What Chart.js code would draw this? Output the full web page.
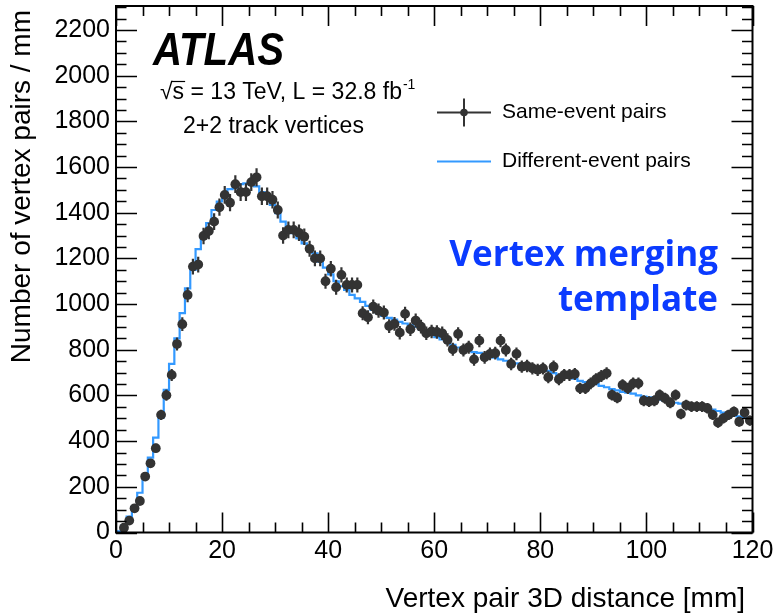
<!DOCTYPE html>
<html><head><meta charset="utf-8">
<script src="https://cdn.jsdelivr.net/npm/chart.js@4.4.1/dist/chart.umd.min.js"></script>
<style>html,body{margin:0;padding:0;background:#fff;}#wrap{width:776px;height:616px;}</style>
</head><body><div id="wrap"><canvas id="c" width="776" height="616"></canvas></div>
<script>
// ---- data ----
const binCenters = [0.5,1.5,2.5,3.5,4.5,5.5,6.5,7.5,8.5,9.5,10.5,11.5,12.5,13.5,14.5,15.5,16.5,17.5,18.5,19.5,
20.5,21.5,22.5,23.5,24.5,25.5,26.5,27.5,28.5,29.5,30.5,31.5,32.5,33.5,34.5,35.5,36.5,37.5,38.5,39.5,
40.5,41.5,42.5,43.5,44.5,45.5,46.5,47.5,48.5,49.5,50.5,51.5,52.5,53.5,54.5,55.5,56.5,57.5,58.5,59.5,
60.5,61.5,62.5,63.5,64.5,65.5,66.5,67.5,68.5,69.5,70.5,71.5,72.5,73.5,74.5,75.5,76.5,77.5,78.5,79.5,
80.5,81.5,82.5,83.5,84.5,85.5,86.5,87.5,88.5,89.5,90.5,91.5,92.5,93.5,94.5,95.5,96.5,97.5,98.5,99.5,
100.5,101.5,102.5,103.5,104.5,105.5,106.5,107.5,108.5,109.5,110.5,111.5,112.5,113.5,114.5,115.5,116.5,117.5,118.5,119.5];
const binHalfWidth = 0.5;

const sameEventPairs = [null,21,52,106,138,245,303,369,515,601,
690,825,912,1040,1164,1173,1298,1320,1361,1424,
1478,1444,1525,1490,1490,1534,1555,1472,1472,1457,
1412,1300,1325,1325,1312,1295,1242,1200,1200,1100,
1155,1074,1128,1084,1084,1084,960,942,989,971,
963,904,913,875,957,890,928,901,872,880,
878,872,843,802,869,799,811,758,840,767,
782,785,840,799,738,782,726,729,719,712,
718,680,726,671,690,690,694,631,631,653,
671,685,697,602,590,646,631,653,653,577,
573,577,602,588,568,602,519,558,551,551,
551,544,515,481,500,515,529,485,525,490];

const differentEventPairs = [5,30,70,113,174,240,328,415,504,624,
738,850,960,1069,1150,1241,1303,1355,1412,1449,
1485,1503,1510,1525,1529,1525,1515,1490,1465,1434,
1398,1361,1332,1310,1288,1266,1246,1222,1186,1160,
1130,1100,1078,1062,1040,1025,1010,992,975,960,
948,940,932,922,915,908,900,890,878,865,
855,845,836,822,810,805,795,790,786,782,
775,765,758,752,745,740,730,725,720,716,
712,708,698,690,684,680,674,664,658,653,
650,642,636,628,622,616,612,608,600,595,
592,588,582,577,572,568,564,558,555,552,
550,545,538,532,525,516,512,508,503,498];

const xTickValues = [0,20,40,60,80,100,120];
const yTickValues = [0,200,400,600,800,1000,1200,1400,1600,1800,2000,2200];
const seriesLabels = ['Same-event pairs','Different-event pairs'];
const xTitle = 'Vertex pair 3D distance [mm]';
const yTitle = 'Number of vertex pairs / mm';

// ---- styling ----
const SANS = '"Liberation Sans", Arial, Helvetica, sans-serif';
const MARK = '#333333';
const BLUE = '#3399ff';
const X_MAX = 120, Y_MAX = 2305;

const pointData = binCenters.map((x,i)=>({x, y: sameEventPairs[i]})).filter(p=>p.y!=null);
const histData = binCenters.map((x,i)=>({x: x-binHalfWidth, y: differentEventPairs[i]}));
histData.push({x: binCenters[binCenters.length-1]+binHalfWidth, y: differentEventPairs[differentEventPairs.length-1]});

const errorBars = {
  id:'errorBars',
  beforeDatasetDraw(chart, args){
    if(args.index!==0) return;
    const {ctx, chartArea:a} = chart; const ys = chart.scales.y;
    const meta = chart.getDatasetMeta(0);
    ctx.save();
    ctx.beginPath(); ctx.rect(a.left,a.top,a.right-a.left,a.bottom-a.top); ctx.clip();
    ctx.strokeStyle = MARK; ctx.lineWidth = 2.2;
    meta.data.forEach((el,i)=>{
      const v = pointData[i].y; const e = Math.sqrt(v); // Poisson uncertainty of the counts
      ctx.beginPath();
      ctx.moveTo(el.x, ys.getPixelForValue(v-e));
      ctx.lineTo(el.x, ys.getPixelForValue(v+e));
      ctx.stroke();
    });
    ctx.restore();
  }
};

const rootFrame = {
  id:'rootFrame',
  afterDatasetsDraw(chart){
    const {ctx, chartArea:a, scales:{x:xs, y:ys}} = chart;
    ctx.save();
    ctx.strokeStyle = '#000'; ctx.lineWidth = 1.6;
    for(let v=0; v<=Y_MAX; v+=50){
      const py = Math.round(ys.getPixelForValue(v))+0.5;
      const len = (v%200===0)?21:10.5;
      ctx.beginPath(); ctx.moveTo(a.left,py); ctx.lineTo(a.left+len,py);
      ctx.moveTo(a.right,py); ctx.lineTo(a.right-len,py); ctx.stroke();
    }
    for(let v=0; v<=X_MAX; v+=5){
      const px = Math.round(xs.getPixelForValue(v))+0.5;
      const len = (v%20===0)?20:10;
      ctx.beginPath(); ctx.moveTo(px,a.bottom); ctx.lineTo(px,a.bottom-len);
      ctx.moveTo(px,a.top); ctx.lineTo(px,a.top+len); ctx.stroke();
    }
    ctx.lineWidth = 2;
    ctx.strokeRect(a.left, a.top, a.right-a.left, a.bottom-a.top);
    ctx.restore();
  },
  afterDraw(chart){
    const ctx = chart.ctx;
    ctx.save();
    // axis titles (ROOT style: aligned to the axis end)
    ctx.fillStyle = '#000';
    ctx.font = `28px ${SANS}`;
    ctx.textAlign='right'; ctx.textBaseline='middle';
    ctx.fillText(xTitle, 745, 599);
    ctx.save(); ctx.translate(22, 10); ctx.rotate(-Math.PI/2);
    ctx.fillText(yTitle, 0, 0); ctx.restore();

    ctx.textAlign='left'; ctx.textBaseline='alphabetic';
    ctx.font = `italic bold 46px ${SANS}`;
    ctx.fillText('ATLAS', 153, 65, 131);
    ctx.font = `23px ${SANS}`;
    const x0 = 160, y0 = 99;
    ctx.fillText('√', x0, y0); const wr = ctx.measureText('√').width;
    ctx.fillText('s', x0+wr, y0); const ws = ctx.measureText('s').width;
    ctx.strokeStyle='#000'; ctx.lineWidth=1.2;
    ctx.beginPath(); ctx.moveTo(x0+wr-1, y0-17.5); ctx.lineTo(x0+wr+ws+1, y0-17.5); ctx.stroke();
    const rest = ' = 13 TeV, L = 32.8 fb';
    ctx.fillText(rest, x0+wr+ws, y0);
    const wrest = ctx.measureText(rest).width;
    ctx.font = `14px ${SANS}`;
    ctx.fillText('-1', x0+wr+ws+wrest+1, y0-10);
    ctx.font = `23px ${SANS}`;
    ctx.fillText('2+2 track vertices', 183, 133);

    // legend
    const ds = chart.data.datasets;
    const lx1=437, lx2=491, lxm=464, ly1=112.5, ly2=161.5;
    ctx.strokeStyle = MARK; ctx.lineWidth = 2;
    ctx.beginPath(); ctx.moveTo(lx1,ly1); ctx.lineTo(lx2,ly1); ctx.moveTo(lxm,ly1-14); ctx.lineTo(lxm,ly1+14); ctx.stroke();
    ctx.fillStyle = MARK; ctx.beginPath(); ctx.arc(lxm,ly1,3.8,0,Math.PI*2); ctx.fill();
    ctx.strokeStyle = BLUE; ctx.lineWidth = 2;
    ctx.beginPath(); ctx.moveTo(lx1,ly2); ctx.lineTo(lx2,ly2); ctx.stroke();
    ctx.fillStyle = '#000'; ctx.font = `21px ${SANS}`; ctx.textBaseline='middle';
    ctx.fillText(ds[0].label, 502, ly1);
    ctx.fillText(ds[1].label, 502, ly2);

    // annotation
    ctx.fillStyle = '#0b3bff'; ctx.textAlign='right'; ctx.textBaseline='alphabetic';
    ctx.font = `bold 35px "Open Sans", ${SANS}`;
    ctx.fillText('Vertex merging', 718, 266);
    ctx.fillText('template', 718, 311);
    ctx.restore();
  }
};

const plainNumber = v => String(v);

new Chart(document.getElementById('c'), {
  type:'scatter',
  data:{datasets:[
    {label: seriesLabels[0], data: pointData, order:0, showLine:false,
     pointRadius:4.9, pointHoverRadius:4.9, pointBackgroundColor:MARK, pointBorderWidth:0, pointBorderColor:MARK},
    {label: seriesLabels[1], type:'line', data: histData, order:1, stepped:'before',
     borderColor:BLUE, borderWidth:2.2, pointRadius:0, fill:false, tension:0}
  ]},
  options:{
    responsive:false, animation:false, devicePixelRatio:1,
    layout:{padding:{top:6,right:23.5,left:0,bottom:0}},
    plugins:{legend:{display:false}, tooltip:{enabled:false}},
    scales:{
      x:{type:'linear', min:0, max:X_MAX,
        afterBuildTicks:s=>{s.ticks = xTickValues.map(v=>({value:v}));},
        grid:{display:false, drawTicks:false}, border:{display:false},
        ticks:{font:{family:SANS,size:25}, color:'#000', padding:4, maxRotation:0, autoSkip:false, includeBounds:false, callback:plainNumber},
        title:{display:false},
        afterFit:s=>{s.height=83.5; s.paddingLeft=0; s.paddingRight=0;}},
      y:{type:'linear', min:0, max:Y_MAX,
        afterBuildTicks:s=>{s.ticks = yTickValues.map(v=>({value:v}));},
        grid:{display:false, drawTicks:false}, border:{display:false},
        ticks:{font:{family:SANS,size:25}, color:'#000', padding:6, autoSkip:false, includeBounds:false, callback:plainNumber},
        title:{display:false},
        afterFit:s=>{s.width=116; s.paddingTop=0; s.paddingBottom=0;}}
    }
  },
  plugins:[errorBars, rootFrame]
});
</script></body></html>
